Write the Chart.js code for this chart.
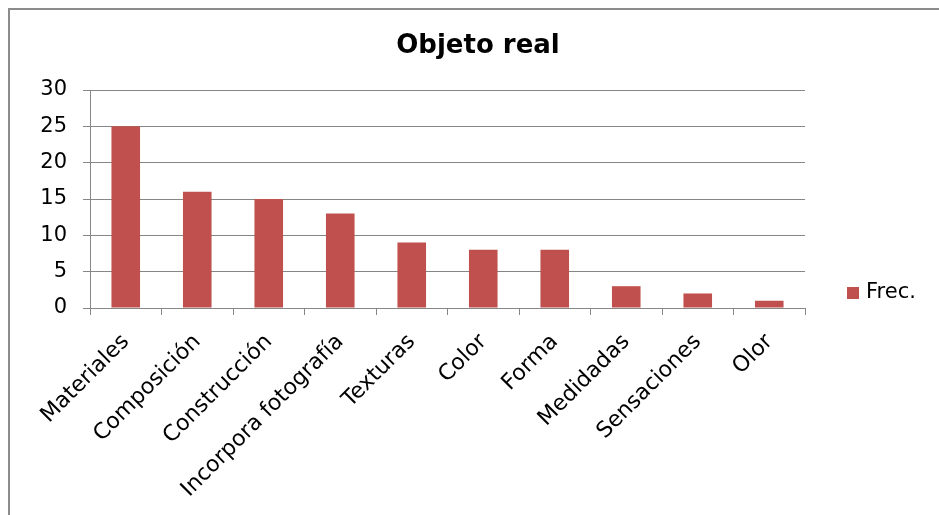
<!DOCTYPE html>
<html>
<head>
<meta charset="utf-8">
<script src="https://cdn.jsdelivr.net/npm/chart.js@4.4.0/dist/chart.umd.min.js"></script>
<style>
  html, body { margin: 0; padding: 0; background: #fff; }
</style>
</head>
<body>
<canvas id="grafico" width="939" height="515"></canvas>
<script>
const TITULO = 'Objeto real';
const CATEGORIAS = ['Materiales', 'Composición', 'Construcción', 'Incorpora fotografía', 'Texturas',
                    'Color', 'Forma', 'Medidadas', 'Sensaciones', 'Olor'];
const FRECUENCIAS = [25, 16, 15, 13, 9, 8, 8, 3, 2, 1];
const SERIE = 'Frec.';
const Y_TICKS = [0, 5, 10, 15, 20, 25, 30];

const FUENTE = '"DejaVu Sans", sans-serif';
const GRIS = '#868686';
const ROJO = '#C0504D';

// marco, titulo y leyenda dibujados a mano para fijar posiciones
const marco = {
    id: 'marco',
    beforeDraw(chart) {
        const ctx = chart.ctx;
        ctx.save();
        ctx.fillStyle = '#fff';
        ctx.fillRect(0, 0, chart.width, chart.height);
        ctx.strokeStyle = '#8c8c8c';
        ctx.lineWidth = 2;
        ctx.strokeRect(9, 9, chart.width + 20, chart.height + 20);
        ctx.restore();
    },
    afterDraw(chart) {
        const ctx = chart.ctx;
        const area = chart.chartArea;
        ctx.save();
        ctx.fillStyle = '#000';
        ctx.textBaseline = 'middle';
        ctx.textAlign = 'center';
        ctx.font = 'bold 26px ' + FUENTE;
        ctx.fillText(TITULO, 478, 46);

        const ds = chart.data.datasets[0];
        ctx.fillStyle = ds.backgroundColor;
        ctx.fillRect(area.right + 42, area.bottom - 21, 12, 12);
        ctx.fillStyle = '#000';
        ctx.textAlign = 'left';
        ctx.font = '21px ' + FUENTE;
        ctx.fillText(ds.label, area.right + 61, area.bottom - 15);
        ctx.restore();
    }
};

const grafico = new Chart(document.getElementById('grafico'), {
    type: 'bar',
    data: {
        labels: CATEGORIAS,
        datasets: [{
            label: SERIE,
            data: FRECUENCIAS,
            backgroundColor: ROJO,
            categoryPercentage: 1.0,
            barPercentage: 0.4
        }]
    },
    options: {
        responsive: false,
        animation: false,
        devicePixelRatio: 1,
        layout: { padding: { top: 90, right: 134, left: 0, bottom: 0 } },
        plugins: {
            legend: { display: false },
            title: { display: false },
            tooltip: { enabled: false }
        },
        scales: {
            y: {
                min: Y_TICKS[0],
                max: Y_TICKS[Y_TICKS.length - 1],
                afterFit(scale) { scale.width = 90; },
                ticks: {
                    stepSize: Y_TICKS[1] - Y_TICKS[0],
                    color: '#000',
                    padding: 16,
                    font: { family: FUENTE, size: 21 }
                },
                grid: { color: GRIS, lineWidth: 1, tickLength: 7 },
                border: { color: GRIS, width: 1 }
            },
            x: {
                afterFit(scale) { scale.height = 207; },
                ticks: {
                    color: '#000',
                    maxRotation: 45,
                    minRotation: 45,
                    padding: 14,
                    autoSkip: false,
                    font: { family: FUENTE, size: 22 }
                },
                grid: { drawOnChartArea: false, color: GRIS, tickLength: 7, offset: true },
                border: { color: GRIS, width: 1 }
            }
        }
    },
    plugins: [marco]
});
</script>
</body>
</html>
